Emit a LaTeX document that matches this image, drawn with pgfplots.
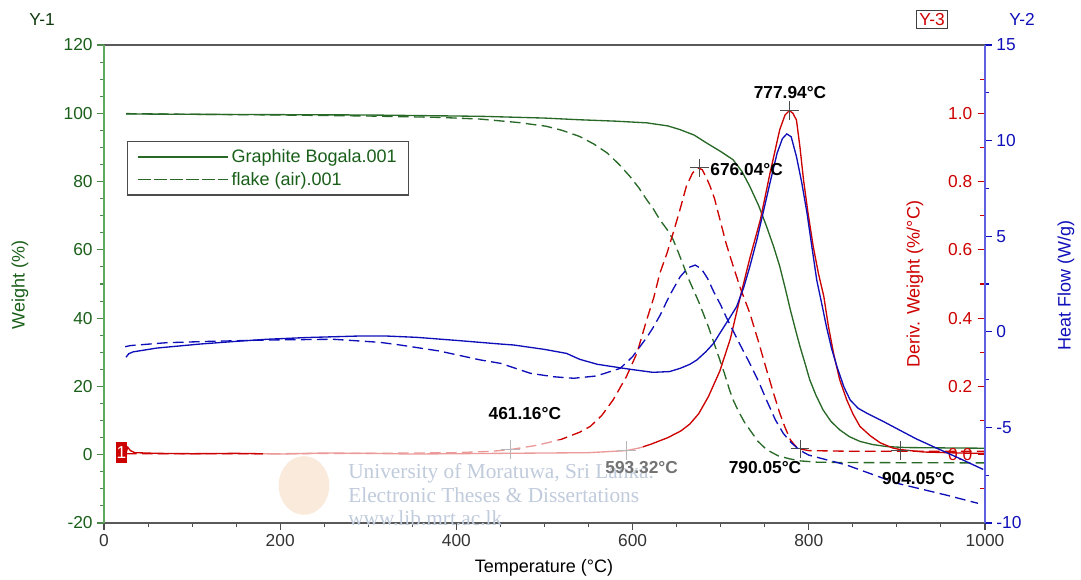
\documentclass[border=0pt]{standalone}
\usepackage{fontspec}
\setmainfont{Liberation Sans}
\newfontfamily\wmfont{Liberation Serif}
\usepackage{pgfplots}
\pgfplotsset{compat=1.18}
\definecolor{tagreen}{RGB}{40,105,40}
\definecolor{axgreen}{RGB}{95,170,95}
\definecolor{txtgreen}{RGB}{25,95,25}
\definecolor{tared}{RGB}{205,0,0}
\definecolor{tablue}{RGB}{15,15,185}
\definecolor{axblue}{RGB}{95,95,225}
\definecolor{wmblue}{RGB}{192,203,220}
\definecolor{veilgray}{RGB}{170,170,170}
\newcommand{\tfont}{\fontsize{13}{15}\selectfont}
\newcommand{\lfont}{\fontsize{13.5}{16}\selectfont}
\begin{document}
\begin{tikzpicture}
\pgfplotsset{
  common/.style={at={(0,0)}, anchor=south west, scale only axis,
    width=660.75pt, height=358.5pt, xmin=0, xmax=1000,
    /pgf/number format/assume math mode=true,
    /pgf/number format/1000 sep={}},
  dashedline/.style={dash pattern=on 8pt off 4pt},
}
% ---------- Axis 1: weight ----------
\begin{axis}[common,
  ymin=-20, ymax=120,
  axis x line*=box, axis y line*=left, separate axis lines,
  x axis line style={draw=black!65, line width=0.9pt},
  y axis line style={draw=axgreen, line width=1.1pt},
  xtick={0,200,...,1000}, minor xtick={50,100,150,250,300,350,450,500,550,650,700,750,850,900,950},
  ytick={-20,0,...,120}, minor ytick={-15,-10,-5,5,10,15,25,30,35,45,50,55,65,70,75,85,90,95,105,110,115},
  xtick pos=left, xticklabel pos=left, ytick pos=left,
  tick align=outside,
  major tick length=5pt, minor tick length=3pt,
  x tick style={black!70, line width=0.8pt},
  y tick style={axgreen!80!black, line width=0.8pt},
  xticklabel style={font=\tfont, text=black!80},
  yticklabel style={font=\tfont, text=txtgreen},
  legend image code/.code={\draw[#1] (2pt,0pt) -- (58pt,0pt); \path (0pt,0pt) -- (68pt,0pt);},
  legend style={at={(0.0261,0.799)}, anchor=north west, draw=black!70, line width=0.8pt,
    fill=white, font=\lfont, text=txtgreen, inner xsep=7pt, inner ysep=4pt,
    cells={anchor=west}, row sep=1.5pt},
  legend cell align=left,
]
\addplot[tagreen, line width=1pt] coordinates {
(25,99.8)(100,99.7)(200,99.6)(300,99.5)(400,99.2)(430,99.1)(500,98.6)(540,98.1)(580,97.7)(616,97.2)(640,96.3)(654,95.2)(670,93.6)(684,91.3)(700,88.8)(714,86.4)(724,83)(733,78.6)(743,73)(752,66.9)(760,61)(767,55.2)(773,49)(779,42.5)(785,36.5)(790,31.7)(796,26.5)(801,22)(808,17.5)(816,13.2)(825,9.8)(835,7.3)(846,5.3)(858,3.9)(872,3)(888,2.4)(910,2.1)(950,2.0)(1000,1.9)};
\addlegendentry{Graphite Bogala.001}
\addplot[tagreen, line width=1pt, dashedline] coordinates {
(25,99.9)(100,99.7)(200,99.5)(300,99.2)(380,98.8)(427,98.3)(470,97.3)(502,96.2)(520,95)(540,93.2)(556,91)(571,88.4)(584,85.2)(597,81.5)(607,78.2)(616,74.7)(624,71.8)(631,68.8)(639,66)(646,63)(652,59.2)(658,55.2)(663,51.8)(669,48.3)(675,44.8)(680,41.5)(686,37.5)(692,33)(698,28.5)(704,24)(710,19)(714,16.1)(720,12.8)(727,9.5)(733,7.3)(742,4)(752,1.5)(765,-0.3)(778,-1.2)(790,-1.8)(810,-2.2)(850,-2.3)(1000,-2.4)};
\addlegendentry{flake (air).001}
\end{axis}
% ---------- Axis 2: derivative weight ----------
\begin{axis}[common,
  ymin=-0.2, ymax=1.2,
  axis x line=none, axis y line*=right,
  y axis line style={draw=axblue, line width=1.2pt},
  ytick={0,0.2,0.4,0.6,0.8,1.0}, minor ytick={-0.1,0.1,0.3,0.5,0.7,0.9,1.1},
  tick align=inside, major tick length=5pt, minor tick length=4pt,
  y tick style={tared, line width=0.8pt},
  scaled y ticks=false,
  yticklabel style={font=\tfont, text=tared, anchor=east, xshift=-6pt,
    /pgf/number format/fixed, /pgf/number format/fixed zerofill, /pgf/number format/precision=1},
]
\addplot[tared, line width=1pt] coordinates {
(25,0.005)(27,0.022)(30,0.012)(35,0.006)(60,0.004)(100,0.003)(150,0.004)(200,0.002)(250,0.005)(300,0.004)(350,0.002)(400,0.003)(450,0.004)(500,0.005)(550,0.006)(593,0.012)(608,0.02)(620,0.03)(640,0.05)(655,0.07)(665,0.09)(675,0.12)(686,0.17)(699,0.245)(711,0.34)(722,0.46)(733,0.575)(745,0.688)(756,0.825)(767,0.952)(773,0.995)(778,1.008)(782,1.0)(786,0.98)(790,0.9)(794,0.805)(799,0.71)(805,0.61)(811,0.53)(817,0.464)(822,0.38)(828,0.298)(835,0.22)(843,0.161)(850,0.12)(858,0.083)(870,0.055)(881,0.035)(895,0.02)(904,0.015)(930,0.008)(970,0.005)(1000,0.004)};
\addplot[tared, line width=1pt, dashedline] coordinates {
(25,0.003)(100,0.003)(200,0.003)(300,0.004)(400,0.006)(440,0.01)(461,0.015)(490,0.027)(518,0.044)(540,0.066)(552,0.083)(565,0.115)(578,0.161)(593,0.229)(605,0.298)(616,0.395)(624,0.46)(631,0.532)(639,0.59)(646,0.649)(654,0.72)(661,0.786)(668,0.825)(674,0.84)(679,0.835)(684,0.81)(688,0.786)(693,0.75)(699,0.69)(706,0.62)(712,0.57)(722,0.49)(733,0.415)(743,0.33)(752,0.249)(760,0.18)(767,0.122)(773,0.08)(779,0.044)(784,0.028)(788,0.018)(800,0.012)(850,0.01)(1000,0.01)};
\addplot[only marks, mark=+, mark size=7pt, black!70, mark options={line width=0.8pt}] coordinates {
(777.94,1.008)(676.04,0.84)(461.16,0.015)(593.32,0.013)(790.05,0.017)(904.05,0.012)};
\end{axis}
% ---------- Axis 3: heat flow ----------
\begin{axis}[common,
  ymin=-10, ymax=15,
  axis x line=none, axis y line*=right,
  y axis line style={draw=axblue, line width=1.2pt},
  ytick={-10,-5,...,15}, minor ytick={-7.5,-2.5,2.5,7.5,12.5},
  tick align=outside, major tick length=5pt, minor tick length=3pt,
  y tick style={tablue, line width=0.8pt},
  yticklabel style={font=\tfont, text=tablue},
]
\addplot[tablue, line width=1pt] coordinates {
(25,-1.33)(28,-1.15)(33,-1.05)(60,-0.85)(109,-0.64)(150,-0.5)(185,-0.39)(230,-0.3)(290,-0.22)(320,-0.22)(355,-0.29)(400,-0.45)(450,-0.64)(465,-0.69)(500,-0.92)(525,-1.13)(540,-1.44)(560,-1.7)(597,-1.96)(623,-2.12)(642,-2.08)(654,-1.91)(665,-1.7)(673,-1.47)(683,-1.05)(692,-0.6)(699,-0.08)(711,0.79)(718,1.31)(726,2.3)(733,3.4)(741,4.8)(748,6.2)(756,7.8)(764,9.34)(770,10.1)(775,10.35)(780,10.2)(786,9.16)(792,7.8)(798,6.2)(803,4.6)(809,2.71)(815,1.4)(820,0.27)(826,-0.9)(832,-1.83)(840,-2.9)(847,-3.57)(856,-4.0)(866,-4.26)(885,-4.7)(903,-5.14)(922,-5.6)(941,-6.0)(970,-6.6)(998,-7.2)};
\addplot[tablue, line width=1pt, dashedline] coordinates {
(24,-0.78)(30,-0.72)(71,-0.57)(120,-0.5)(185,-0.43)(260,-0.39)(313,-0.55)(336,-0.69)(380,-1.0)(427,-1.47)(450,-1.65)(484,-2.17)(510,-2.35)(533,-2.43)(559,-2.31)(586,-1.91)(600,-1.3)(608,-0.8)(616,-0.3)(623,0.2)(631,0.85)(642,1.9)(654,2.88)(663,3.35)(671,3.49)(678,3.3)(685,2.8)(692,2.1)(700,1.4)(707,0.7)(720,-0.5)(733,-1.65)(743,-2.6)(752,-3.57)(762,-4.6)(771,-5.31)(780,-5.8)(790,-6.2)(800,-6.45)(843,-6.97)(900,-7.92)(956,-8.54)(992,-8.97)};
\end{axis}
% ---------- Axis 4: annotations ----------
\begin{axis}[common, ymin=-20, ymax=120, hide axis, clip=false]
% watermark veil (over curves only)
\fill[white, opacity=0.6] (axis cs:180,4.4) rectangle (axis cs:612,-17);
\fill[orange!50!brown, opacity=0.16] (axis cs:227,-9) ellipse [x radius=19pt, y radius=22pt];
\node[anchor=west, text=wmblue, font=\wmfont\fontsize{16}{18}\selectfont, inner sep=0pt] at (axis cs:277,-5.3) {University of Moratuwa, Sri Lanka.};
\node[anchor=west, text=wmblue, font=\wmfont\fontsize{16}{18}\selectfont, inner sep=0pt] at (axis cs:277,-12) {Electronic Theses \& Dissertations};
\node[anchor=west, text=wmblue, font=\wmfont\fontsize{16}{18}\selectfont, inner sep=0pt] at (axis cs:277,-18.5) {www.lib.mrt.ac.lk};
% peak labels
\node[font=\bfseries\fontsize{13}{15}\selectfont] at (axis cs:778.7,106) {777.94°C};
\node[font=\bfseries\fontsize{13}{15}\selectfont, anchor=west, inner sep=0pt] at (axis cs:688,83.5) {676.04°C};
\node[font=\bfseries\fontsize{13}{15}\selectfont] at (axis cs:477.7,12) {461.16°C};
\node[font=\bfseries\fontsize{13}{15}\selectfont, text=black!55] at (axis cs:610.3,-3.9) {593.32°C};
\node[font=\bfseries\fontsize{13}{15}\selectfont] at (axis cs:750.3,-3.7) {790.05°C};
\node[font=\bfseries\fontsize{13}{15}\selectfont] at (axis cs:924.3,-7) {904.05°C};
% red "1" marker
\node[fill=tared, text=white, font=\tfont, inner sep=0.5pt, minimum width=8pt, minimum height=16pt] at (axis cs:19.9,0.6) {1};
% axis titles
\node[font=\lfont, text=txtgreen, rotate=90] at (axis cs:-95.3,49.8) {Weight (\%)};
\node[font=\lfont, text=tared, rotate=90] at (axis cs:920.5,50) {Deriv. Weight (\%/°C)};
\node[font=\lfont, text=tablue, rotate=90] at (axis cs:1092,49.7) {Heat Flow (W/g)};
\node[font=\lfont, text=black] at (axis cs:499.4,-33.1) {Temperature (°C)};
% header labels
\node[font=\tfont, text=txtgreen!60!black] at (axis cs:-70.4,127.4) {Y-1};
\node[font=\tfont, text=tared, draw=black!75, line width=0.7pt, inner sep=2pt] at (axis cs:939.8,127.4) {Y-3};
\node[font=\tfont, text=tablue] at (axis cs:1042,127.4) {Y-2};
\end{axis}
\pgfresetboundingbox
\path (-78pt,-42pt) rectangle (732.75pt,392.25pt);
\end{tikzpicture}
\end{document}
